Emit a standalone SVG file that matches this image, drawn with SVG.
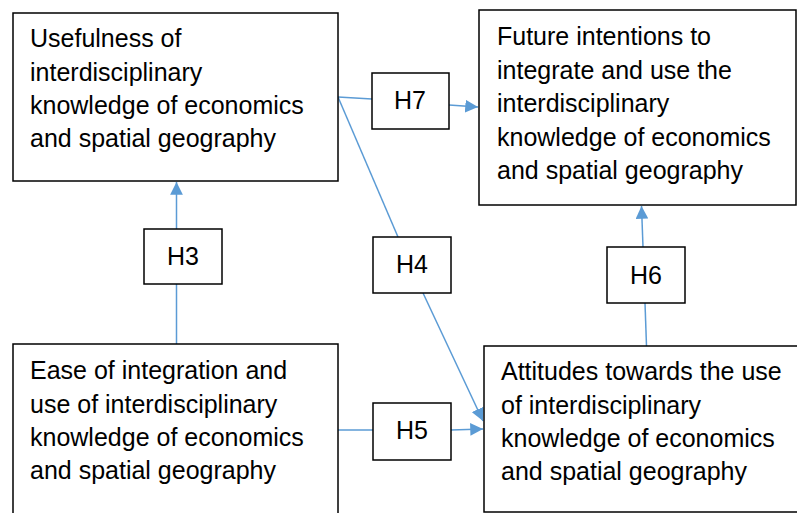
<svg xmlns="http://www.w3.org/2000/svg" width="797" height="513" viewBox="0 0 797 513">
<style>
.box{fill:#fff;stroke:#000;stroke-width:1.5}
.t{font-family:"Liberation Sans",Arial,sans-serif;font-size:25px;fill:#000}
.h{font-family:"Liberation Sans",Arial,sans-serif;font-size:25px;fill:#000;text-anchor:middle}
.c{fill:none;stroke:#5B9BD5;stroke-width:1.5}
</style>
<defs>
<marker id="arr" viewBox="0 0 10 10" refX="10" refY="5" markerWidth="8.5" markerHeight="8.5" markerUnits="strokeWidth" orient="auto">
<path d="M0,0 L10,5 L0,10 z" fill="#5B9BD5"/>
</marker>
</defs>
<rect width="797" height="513" fill="#fff"/>
<g id="connectors">
<line class="c" x1="176.5" y1="344" x2="176.5" y2="284"/>
<line class="c" x1="176.5" y1="229" x2="176.5" y2="182" marker-end="url(#arr)"/>
<line class="c" x1="338" y1="97" x2="372" y2="99"/>
<line class="c" x1="449" y1="105" x2="478" y2="107" marker-end="url(#arr)"/>
<line class="c" x1="338" y1="97" x2="398" y2="237"/>
<line class="c" x1="423" y1="293" x2="483" y2="421" marker-end="url(#arr)"/>
<line class="c" x1="338" y1="430" x2="373" y2="430"/>
<line class="c" x1="451" y1="430" x2="483" y2="429" marker-end="url(#arr)"/>
<line class="c" x1="646.5" y1="346" x2="645" y2="303"/>
<line class="c" x1="643" y1="247" x2="641.5" y2="206" marker-end="url(#arr)"/>
</g>
<g id="usefulness">
<rect class="box" x="13" y="13" width="325" height="168"/>
<text class="t" x="30" y="47">Usefulness of</text>
<text class="t" x="30" y="81">interdisciplinary</text>
<text class="t" x="30" y="114">knowledge of economics</text>
<text class="t" x="30" y="147">and spatial geography</text>
</g>
<g id="future">
<rect class="box" x="479" y="10" width="317" height="195"/>
<text class="t" x="497" y="45">Future intentions to</text>
<text class="t" x="497" y="79">integrate and use the</text>
<text class="t" x="497" y="112">interdisciplinary</text>
<text class="t" x="497" y="146">knowledge of economics</text>
<text class="t" x="497" y="179">and spatial geography</text>
</g>
<g id="ease">
<rect class="box" x="13" y="344" width="325" height="180"/>
<text class="t" x="30" y="379">Ease of integration and</text>
<text class="t" x="30" y="413">use of interdisciplinary</text>
<text class="t" x="30" y="446">knowledge of economics</text>
<text class="t" x="30" y="479">and spatial geography</text>
</g>
<g id="attitudes">
<rect class="box" x="484" y="346" width="320" height="166"/>
<text class="t" x="501" y="380">Attitudes towards the use</text>
<text class="t" x="501" y="414">of interdisciplinary</text>
<text class="t" x="501" y="447">knowledge of economics</text>
<text class="t" x="501" y="480">and spatial geography</text>
</g>
<g id="h3">
<rect class="box" x="144" y="229" width="78" height="55"/>
<text class="h" x="183" y="265">H3</text>
</g>
<g id="h4">
<rect class="box" x="373" y="237" width="78" height="56"/>
<text class="h" x="412" y="273">H4</text>
</g>
<g id="h5">
<rect class="box" x="373" y="403" width="78" height="57"/>
<text class="h" x="412" y="439">H5</text>
</g>
<g id="h6">
<rect class="box" x="607" y="247" width="78" height="56"/>
<text class="h" x="646" y="284">H6</text>
</g>
<g id="h7">
<rect class="box" x="372" y="73" width="77" height="56"/>
<text class="h" x="410" y="109">H7</text>
</g>
</svg>
